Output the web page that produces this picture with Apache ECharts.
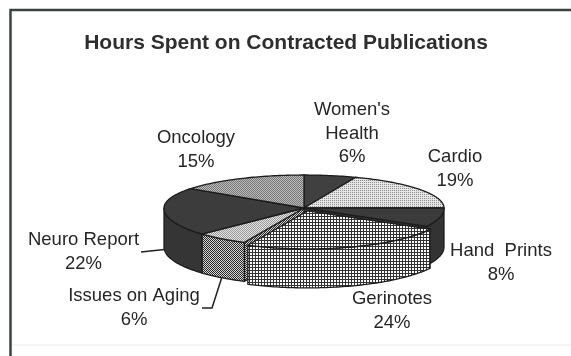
<!DOCTYPE html>
<html>
<head>
<meta charset="utf-8">
<script src="https://cdn.jsdelivr.net/npm/echarts@6/dist/echarts.min.js"></script>
<style>
  html, body { margin: 0; padding: 0; background: #fff; }
  #chart { width: 571px; height: 356px; }
</style>
</head>
<body>
<div id="chart"></div>
<script>
// Slices, clockwise from 12 o'clock
const categories = ["Women's Health", 'Cardio', 'Hand  Prints', 'Gerinotes', 'Issues on Aging', 'Neuro Report', 'Oncology'];
const shares = [6, 19, 8, 24, 6, 22, 15];
const explodedSlices = ['Gerinotes'];

// Tilted pie geometry (pixels)
const PIE = { cx: 304, cy: 208, rx: 140, ryBack: 33, ryFront: 38, depth: 39, explode: 0.08 };

// Label placement: centre x and first baseline; optional leader start points
const LABEL_LAYOUT = [
  { x: 352, y: 117, wrap: true },
  { x: 455, y: 164 },
  { x: 501, y: 258 },
  { x: 392, y: 306 },
  { x: 134, y: 303, leader: [[202, 308], [212, 308]] },
  { x: 83.5, y: 247, leader: [[141, 252]] },
  { x: 196, y: 145 }
];

const FONT = '"Liberation Sans", Arial, Helvetica, sans-serif';
const INK = '#262626';
const EDGE = '#1c1c1c';

function pattern(size, paint) {
  const c = document.createElement('canvas');
  c.width = c.height = size;
  const g = c.getContext('2d');
  paint(g);
  return { image: c, repeat: 'repeat' };
}
function dotted(bg, fg, both) {
  return pattern(2, g => {
    g.fillStyle = bg; g.fillRect(0, 0, 2, 2);
    g.fillStyle = fg; g.fillRect(0, 0, 1, 1);
    if (both) g.fillRect(1, 1, 1, 1);
  });
}
function grid(bg, fg) {
  return pattern(3, g => {
    g.fillStyle = bg; g.fillRect(0, 0, 3, 3);
    g.fillStyle = fg; g.fillRect(0, 0, 3, 1); g.fillRect(0, 0, 1, 3);
  });
}

// Fill for each slice's top and side
const FILLS = [
  { top: '#404040', side: '#343434' },
  { top: dotted('#e6e6e6', '#8e8e8e'), side: dotted('#b0b0b0', '#555', true) },
  { top: '#3b3b3b', side: '#333333' },
  { top: grid('#ffffff', '#333333'), side: grid('#ffffff', '#333333') },
  { top: dotted('#e2e2e2', '#9a9a9a', true), side: dotted('#d4d4d4', '#2a2a2a', true) },
  { top: '#3c3c3c', side: '#353535' },
  { top: dotted('#b8b8b8', '#7a7a7a', true), side: '#5a5a5a' }
];

const total = shares.reduce((s, v) => s + v, 0);
const starts = [];
shares.reduce((acc, v, i) => { starts[i] = acc; return acc + v; }, 0);

function pt(a, ox, oy, down) {
  const s = Math.sin(a), c = Math.cos(a);
  const ry = c > 0 ? PIE.ryBack : PIE.ryFront;
  return [PIE.cx + ox + PIE.rx * s, PIE.cy + oy - ry * c + (down || 0)];
}
function arc(a1, a2, ox, oy, down) {
  const n = Math.max(2, Math.ceil(Math.abs(a2 - a1) / 0.02));
  const out = [];
  for (let k = 0; k <= n; k++) out.push(pt(a1 + (a2 - a1) * k / n, ox, oy, down));
  return out;
}

function renderSlice(params, api) {
  const i = params.dataIndex;
  const value = api.value(0);
  const a1 = 2 * Math.PI * starts[i] / total;
  const a2 = a1 + 2 * Math.PI * value / total;
  const mid = (a1 + a2) / 2;
  const name = categories[i];
  const isOut = explodedSlices.indexOf(name) >= 0;
  const ox = isOut ? PIE.explode * PIE.rx * Math.sin(mid) : 0;
  const oy = isOut ? -PIE.explode * PIE.ryFront * Math.cos(mid) : 0;
  const base = isOut ? 10 : 0;
  const fill = FILLS[i];
  const children = [];
  const lineStyle = { stroke: EDGE, lineWidth: 1.3 };

  // Radial walls facing a gap left by an exploded neighbour
  const prev = categories[(i + categories.length - 1) % categories.length];
  const next = categories[(i + 1) % categories.length];
  const walls = [];
  if (!isOut && explodedSlices.indexOf(prev) >= 0) walls.push(a1);
  if (!isOut && explodedSlices.indexOf(next) >= 0) walls.push(a2);
  walls.forEach(a => {
    const c0 = [PIE.cx + ox, PIE.cy + oy];
    const e0 = pt(a, ox, oy, 0);
    children.push({
      type: 'polygon', z2: base + 1,
      shape: { points: [c0, e0, [e0[0], e0[1] + PIE.depth], [c0[0], c0[1] + PIE.depth]] },
      style: Object.assign({ fill: fill.side }, lineStyle)
    });
  });

  // Outer curved face, visible on the front half only
  const s1 = Math.max(a1, Math.PI / 2), s2 = Math.min(a2, 1.5 * Math.PI);
  if (s2 > s1) {
    const upper = arc(s1, s2, ox, oy, 0);
    const lower = arc(s1, s2, ox, oy, PIE.depth).reverse();
    children.push({
      type: 'polygon', z2: base + 2,
      shape: { points: upper.concat(lower) },
      style: Object.assign({ fill: fill.side }, lineStyle)
    });
  }

  // Top face
  children.push({
    type: 'polygon', z2: base + 3,
    shape: { points: [[PIE.cx + ox, PIE.cy + oy]].concat(arc(a1, a2, ox, oy, 0)) },
    style: Object.assign({ fill: fill.top }, lineStyle)
  });

  // Label with name and share
  const lay = LABEL_LAYOUT[i];
  const title = lay.wrap ? name.replace(' ', '\n') : name;
  const lines = title + '\n' + value + '%';
  children.push({
    type: 'text', z2: 30,
    style: {
      text: lines, x: lay.x, y: lay.y - 18.5,
      fill: INK, font: '18.5px ' + FONT,
      align: 'center', verticalAlign: 'top', lineHeight: 23.5
    }
  });

  // Leader line ending on the slice's lower rim at its mid angle
  if (lay.leader) {
    const end = pt(mid, ox, oy, PIE.depth);
    children.push({
      type: 'polyline', z2: 30,
      shape: { points: lay.leader.concat([end]) },
      style: { stroke: '#222', lineWidth: 1.5, fill: null }
    });
  }

  return { type: 'group', children: children };
}

const chart = echarts.init(document.getElementById('chart'), null, { renderer: 'canvas' });
chart.setOption({
  animation: false,
  backgroundColor: '#ffffff',
  title: {
    text: 'Hours Spent on Contracted Publications',
    left: 281, top: 28, textAlign: 'center',
    textStyle: { fontFamily: FONT, fontSize: 21, fontWeight: 'bold', color: '#2e2e2e' }
  },
  graphic: [
    { type: 'polyline', shape: { points: [[10.5, 356], [10.5, 10], [571, 10]] },
      style: { stroke: '#3b4340', lineWidth: 2.5, fill: null } },
    { type: 'line', shape: { x1: 12, y1: 345, x2: 571, y2: 345 },
      style: { stroke: '#efeaea', lineWidth: 1 } }
  ],
  series: [{
    type: 'custom',
    coordinateSystem: 'none',
    silent: true,
    renderItem: renderSlice,
    data: shares.map((v, i) => ({ name: categories[i], value: [v] }))
  }]
});
</script>
</body>
</html>
